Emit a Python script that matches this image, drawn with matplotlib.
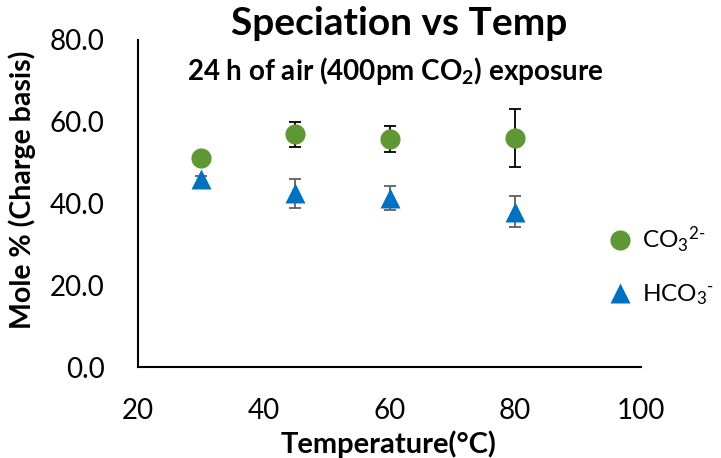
import numpy as np
import matplotlib
matplotlib.use('Agg')
import matplotlib.pyplot as plt

plt.rcParams['font.family'] = ['Lato', 'DejaVu Sans']
plt.rcParams['mathtext.fontset'] = 'custom'
plt.rcParams['mathtext.rm'] = 'Lato'
plt.rcParams['mathtext.bf'] = 'Lato:bold'
plt.rcParams['mathtext.it'] = 'Lato:italic'

# data
temps = [30, 45, 60, 80]
co3 = [51.1, 56.9, 55.8, 56.1]
co3_err = [0.5, 3.0, 3.2, 7.1]
hco3 = [45.9, 42.5, 41.4, 38.0]
hco3_err = [0.8, 3.6, 3.0, 3.8]

xticks = [20, 40, 60, 80, 100]
yticks = [0, 20, 40, 60, 80]

fig = plt.figure(figsize=(7.21, 4.58), dpi=100)
ax = fig.add_axes([138/721, 1 - 367/458, (641 - 138)/721, (367 - 40)/458])

green = '#5f9734'
blue = '#0070c0'

ax.errorbar(temps, co3, yerr=co3_err, fmt='none', ecolor='black',
            elinewidth=1.3, capsize=4.5, capthick=1.3, zorder=2)
ax.errorbar(temps, hco3, yerr=hco3_err, fmt='none', ecolor='#606060',
            elinewidth=1.3, capsize=4.5, capthick=1.3, zorder=2)
h1, = ax.plot(temps, co3, 'o', ms=14.5, color=green, mec='none', zorder=3)
h2, = ax.plot(temps, hco3, '^', ms=15, color=blue, mec='none', zorder=3)

ax.set_xlim(20, 100)
ax.set_ylim(0, 80)
ax.set_xticks(xticks)
ax.set_yticks(yticks)
ax.set_yticklabels(['%.1f' % v for v in yticks])
ax.tick_params(axis='both', length=0, labelsize=20, colors='black')
ax.tick_params(axis='y', pad=24)
ax.tick_params(axis='x', pad=22)

for s in ['top', 'right']:
    ax.spines[s].set_visible(False)
for s in ['left', 'bottom']:
    ax.spines[s].set_linewidth(1.5)
    ax.spines[s].set_color('black')

fig.text(399/721, 1 - 35/458, 'Speciation vs Temp', ha='center',
         va='baseline', fontsize=28, fontweight='bold')
fig.text(395/721, 1 - 80/458, r'24 h of air (400pm CO$_\mathbf{2}$) exposure',
         ha='center', va='baseline', fontsize=20, fontweight='bold')

fig.text(389/721, 1 - 453/458, 'Temperature(°C)', ha='center',
         va='baseline', fontsize=21, fontweight='bold')
fig.text(22/721, 1 - 190/458, 'Mole % (Charge basis)', ha='center',
         va='center', rotation=90, fontsize=20.5, fontweight='bold')

fig.legend([h1, h2], [r'CO$_3$$^{2\text{-}}$', r'HCO$_3$$^{\text{-}}$'],
           loc='center left', bbox_to_anchor=(596/721, 1 - 266/458),
           frameon=False, fontsize=17.5, handletextpad=0.4,
           labelspacing=1.15, handlelength=1.0, borderpad=0)

fig.savefig('out.png', dpi=100)
